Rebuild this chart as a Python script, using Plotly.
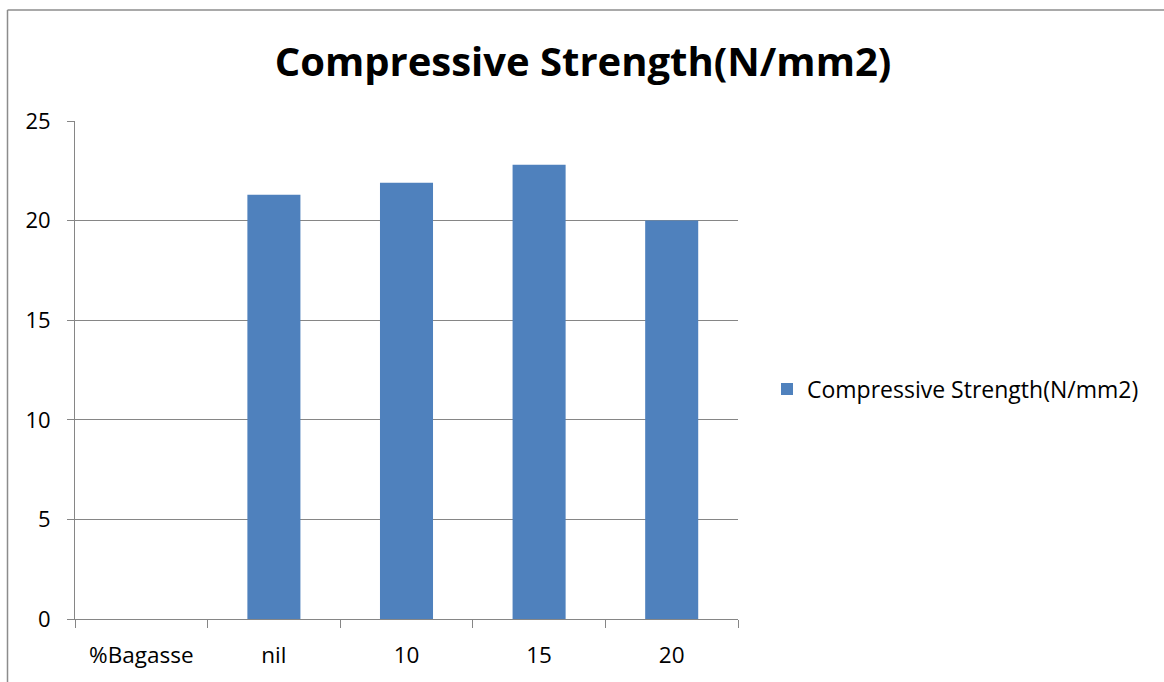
import plotly.graph_objects as go

categories = ["%Bagasse", "nil", "10", "15", "20"]
values = [None, 21.3, 21.9, 22.8, 20.0]
series_name = "Compressive Strength(N/mm2)"
title_text = "Compressive Strength(N/mm2)"
y_ticks = [0, 5, 10, 15, 20, 25]

W, H = 1164, 682
L, R, T, B = 75, 738, 121, 621
FONT = "Open Sans"
GRAY = "#868686"

fig = go.Figure()
fig.add_trace(go.Bar(
    x=categories, y=values, name=series_name,
    marker=dict(color="#4F81BD", line=dict(width=0)),
    showlegend=True,
))

pw = R - L
ph = B - T
def px_to_paper_x(px):
    return (px - L) / pw
def px_to_paper_y(py):
    return (B - py) / ph

fig.update_layout(
    width=W, height=H,
    margin=dict(l=L, r=W - R, t=T, b=H - B, pad=0),
    paper_bgcolor="white", plot_bgcolor="white",
    bargap=0.6,
    font=dict(family=FONT, color="#000000"),
    title=dict(text="<b>" + title_text + "</b>", x=583 / W, xanchor="center",
               xref="container", y=1 - 62 / H, yanchor="middle", yref="container",
               font=dict(family=FONT, size=40, color="#000000")),
    showlegend=True,
    legend=dict(xref="container", yref="container", x=767 / W, y=1 - 389 / H,
                xanchor="left", yanchor="middle",
                font=dict(family=FONT, size=23, color="#000000"),
                bgcolor="rgba(0,0,0,0)", borderwidth=0),
    xaxis=dict(
        type="category", showgrid=False, showline=True, linecolor=GRAY, linewidth=1,
        ticks="outside", tickson="boundaries", ticklen=8, tickcolor=GRAY,
        tickfont=dict(family=FONT, size=22.5, color="#000000"),
        zeroline=False, fixedrange=True, ticklabelstandoff=16,
    ),
    yaxis=dict(
        range=[0, 25], tickvals=y_ticks, showgrid=True, gridcolor=GRAY, gridwidth=1,
        showline=True, linecolor=GRAY, linewidth=1, ticks="outside", ticklen=7,
        tickcolor=GRAY, tickfont=dict(family=FONT, size=22, color="#000000"),
        zeroline=False, ticklabelstandoff=12, fixedrange=True,
    ),
)

# outer chart frame (top and left edges visible)
fig.add_shape(type="line", xref="paper", yref="paper",
              x0=px_to_paper_x(7.5), x1=px_to_paper_x(1200),
              y0=px_to_paper_y(9.5), y1=px_to_paper_y(9.5),
              line=dict(color="#8c8c8c", width=1.5), layer="above")
fig.add_shape(type="line", xref="paper", yref="paper",
              x0=px_to_paper_x(7.5), x1=px_to_paper_x(7.5),
              y0=px_to_paper_y(9.5), y1=px_to_paper_y(720),
              line=dict(color="#8c8c8c", width=1.5), layer="above")

fig.write_html("out.html", config={"displayModeBar": False},
               post_script="document.body.style.margin='0px';document.body.style.overflow='hidden';")
